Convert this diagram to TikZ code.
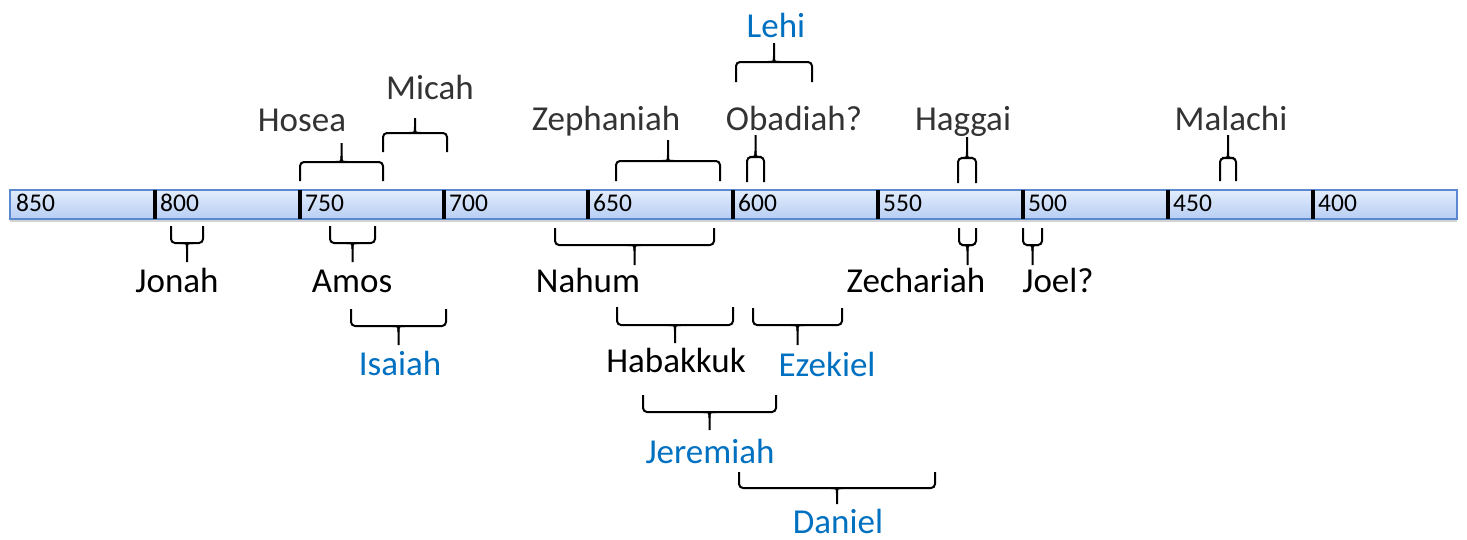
\documentclass[tikz,border=0pt]{standalone}
\usepackage{fontspec}
\setmainfont{Carlito}
\usetikzlibrary{shadows}
\definecolor{lblue}{HTML}{0070C0}
\definecolor{tgray}{HTML}{333333}
\definecolor{barTop}{HTML}{E2ECFC}
\definecolor{barBot}{HTML}{B7CEF3}
\definecolor{barEdge}{HTML}{5A89CF}
\newcommand\mybrace[5]{%
  \draw[bracestyle,rounded corners=4pt] (#1,#4) -- (#1,#3) -- (#2,#3) -- (#2,#4);
  \pgfmathsetmacro\bm{(#1+#2)/2}
  \pgfmathsetmacro\bs{#5>#3 ? 6 : -6}
  \draw[bracestyle] (\bm-6,#3) .. controls (\bm,#3) .. (\bm,#3+\bs) -- (\bm,#5);
  \draw[bracestyle] (\bm+6,#3) .. controls (\bm,#3) .. (\bm,#3+\bs);
}
\begin{document}
\begin{tikzpicture}[x=1pt,y=-1pt,
  bracestyle/.style={line width=2pt,black},
  lbl/.style={anchor=base,inner sep=0pt,font=\fontsize{35}{40}\selectfont},
  toplbl/.style={lbl,text=tgray},
  blulbl/.style={lbl,text=lblue},
  blklbl/.style={lbl,text=black},
  yearlbl/.style={anchor=base west,inner sep=0pt,font=\fontsize{25.5}{28}\selectfont},
  tick/.style={line width=4pt,black}]
\useasboundingbox (0,0) rectangle (1467,539);
% timeline bar
\path[draw=barEdge,line width=1.5pt,top color=barTop,bottom color=barBot,
  drop shadow={shadow xshift=0pt,shadow yshift=-3pt,opacity=0.35}]
  (10,190) rectangle (1457,219);
\coordinate (barleft) at (10,190);
\foreach \x/\n in {155/t1,300/t2,444/t3,588/t4,733/t5,878/t6,1023/t7,1168/t8,1313/t9}{
  \coordinate (\n top) at (\x,190);
  \coordinate (\n bot) at (\x,219);
  \draw[tick] (\n top) -- (\n bot);
}
\foreach \x/\y in {16/850,160/800,305/750,449/700,593/650,738/600,883/550,1028/500,1173/450,1318/400}{
  \node[yearlbl] (y\y) at (\x,211) {\y};
}
% top labels
\node[toplbl] (hosea) at (302,131) {Hosea};
\node[toplbl] (micah) at (430,99) {Micah};
\node[toplbl] (zeph) at (606,130) {Zephaniah};
\node[blulbl] (lehi) at (776,37) {Lehi};
\node[toplbl] (obad) at (794,130) {Obadiah?};
\node[toplbl] (hagg) at (963,130) {Haggai};
\node[toplbl] (mala) at (1231,130) {Malachi};
% bottom labels
\node[blklbl] (jonah) at (177,292) {Jonah};
\node[blklbl] (amos) at (352,292) {Amos};
\node[blulbl] (isaiah) at (400,375) {Isaiah};
\node[blklbl] (nahum) at (588,292) {Nahum};
\node[blklbl] (zech) at (916,292) {Zechariah};
\node[blklbl] (joel) at (1058,292) {Joel?};
\node[blklbl] (habak) at (676,372) {Habakkuk};
\node[blulbl] (ezek) at (827,376) {Ezekiel};
\node[blulbl] (jer) at (710,463) {Jeremiah};
\node[blulbl] (dan) at (838,533) {Daniel};
% top braces (x1,x2,horizontal y,end y,tip y)
\mybrace{300}{383}{162}{181}{143}
\mybrace{383}{447}{133}{152}{118}
\mybrace{616}{720}{161}{181}{140}
\mybrace{736}{812}{62}{82}{43}
\mybrace{747}{764}{157}{182}{135}
\mybrace{958}{976}{158}{183}{137}
\mybrace{1220}{1236}{158}{181}{135}
% bottom braces
\mybrace{171}{203}{243}{226}{262}
\mybrace{330}{375}{243}{226}{262}
\mybrace{351}{446}{326}{309}{345}
\mybrace{555}{714}{245}{228}{265}
\mybrace{959}{976}{245}{228}{265}
\mybrace{1023}{1042}{245}{228}{265}
\mybrace{617}{733}{325}{307}{343}
\mybrace{753}{842}{325}{308}{345}
\mybrace{643}{776}{412}{395}{430}
\mybrace{739}{935}{488}{472}{504}
\end{tikzpicture}
\end{document}
